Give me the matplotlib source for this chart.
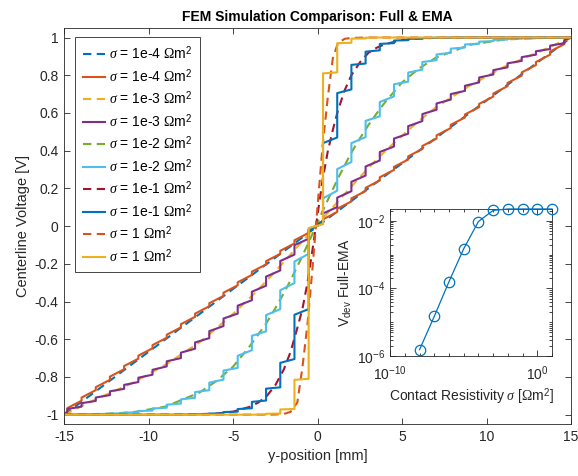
import matplotlib
matplotlib.use("Agg")
import matplotlib.pyplot as plt
from matplotlib.ticker import FixedLocator, FuncFormatter, LogLocator, NullFormatter

plt.rcParams["font.family"] = ["Liberation Sans", "DejaVu Sans"]
plt.rcParams["mathtext.fontset"] = "custom"
plt.rcParams["mathtext.rm"] = "Liberation Serif"
plt.rcParams["mathtext.it"] = "Liberation Serif:italic"
plt.rcParams["mathtext.sf"] = "Liberation Sans"
plt.rcParams["axes.unicode_minus"] = False

INK = "#262626"

# ---------------- data ----------------
# domain ends [mm] and applied potentials [V]
y_ends = [-15.0, 15.0]
v_ends = [-1.0, 1.0]

# contact planes between the layers of the full model [mm]
contact_y = [-14.81, -13.97, -13.13, -12.29, -11.45, -10.61, -9.77, -8.93, -8.09,
             -7.25, -6.41, -5.57, -4.73, -3.89, -3.05, -2.21, -1.37, -0.53,
             0.32, 1.16, 2.00, 2.84, 3.68, 4.52, 5.36, 6.20, 7.04, 7.88, 8.72,
             9.56, 10.40, 11.24, 12.08, 12.92, 13.76, 14.60]

# full model: potential just below / just above each contact plane
full_1e4_lo = [-0.981, -0.926, -0.870, -0.815, -0.759, -0.703, -0.648, -0.592, -0.537,
               -0.481, -0.425, -0.370, -0.314, -0.259, -0.203, -0.147, -0.092, -0.036,
               0.020, 0.075, 0.131, 0.186, 0.242, 0.298, 0.353, 0.409, 0.464,
               0.520, 0.576, 0.631, 0.687, 0.742, 0.798, 0.854, 0.909, 0.965]
full_1e4_hi = [-0.965, -0.909, -0.854, -0.798, -0.742, -0.687, -0.631, -0.576, -0.520,
               -0.464, -0.409, -0.353, -0.298, -0.242, -0.186, -0.131, -0.075, -0.020,
               0.036, 0.092, 0.147, 0.203, 0.259, 0.314, 0.370, 0.425, 0.481,
               0.537, 0.592, 0.648, 0.703, 0.759, 0.815, 0.870, 0.926, 0.981]

full_1e3_lo = [-0.986, -0.957, -0.927, -0.896, -0.863, -0.827, -0.788, -0.744, -0.700,
               -0.650, -0.594, -0.530, -0.464, -0.393, -0.316, -0.235, -0.151, -0.067,
               0.017, 0.101, 0.185, 0.268, 0.348, 0.422, 0.490, 0.557, 0.617,
               0.671, 0.717, 0.762, 0.804, 0.842, 0.876, 0.909, 0.939, 0.970]
full_1e3_hi = [-0.970, -0.939, -0.909, -0.876, -0.842, -0.804, -0.762, -0.717, -0.671,
               -0.617, -0.557, -0.490, -0.422, -0.348, -0.268, -0.185, -0.101, -0.017,
               0.067, 0.151, 0.235, 0.316, 0.393, 0.464, 0.530, 0.594, 0.650,
               0.700, 0.744, 0.788, 0.827, 0.863, 0.896, 0.927, 0.957, 0.986]

full_1e2_lo = [-1.000, -0.999, -0.998, -0.996, -0.993, -0.988, -0.978, -0.963, -0.941,
               -0.910, -0.870, -0.814, -0.752, -0.658, -0.558, -0.440, -0.302, -0.147,
               0.023, 0.188, 0.340, 0.472, 0.582, 0.688, 0.766, 0.830, 0.880,
               0.919, 0.947, 0.967, 0.981, 0.989, 0.994, 0.996, 0.998, 0.999]
full_1e2_hi = [-0.999, -0.998, -0.996, -0.994, -0.989, -0.981, -0.967, -0.947, -0.919,
               -0.880, -0.830, -0.766, -0.688, -0.582, -0.472, -0.340, -0.188, -0.023,
               0.147, 0.302, 0.440, 0.558, 0.658, 0.752, 0.814, 0.870, 0.910,
               0.941, 0.963, 0.978, 0.988, 0.993, 0.996, 0.998, 0.999, 1.000]

full_1e1_lo = [-1.000, -1.000, -1.000, -1.000, -1.000, -1.000, -1.000, -1.000, -1.000,
               -0.999, -0.997, -0.993, -0.984, -0.966, -0.925, -0.855, -0.705, -0.440,
               0.030, 0.470, 0.725, 0.862, 0.932, 0.970, 0.986, 0.994, 0.998,
               0.999, 1.000, 1.000, 1.000, 1.000, 1.000, 1.000, 1.000, 1.000]
full_1e1_hi = [-1.000, -1.000, -1.000, -1.000, -1.000, -1.000, -1.000, -1.000, -0.999,
               -0.998, -0.994, -0.986, -0.970, -0.932, -0.862, -0.725, -0.470, -0.030,
               0.440, 0.705, 0.855, 0.925, 0.966, 0.984, 0.993, 0.997, 0.999,
               1.000, 1.000, 1.000, 1.000, 1.000, 1.000, 1.000, 1.000, 1.000]

full_1e0_lo = [-1.000, -1.000, -1.000, -1.000, -1.000, -1.000, -1.000, -1.000, -1.000,
               -1.000, -1.000, -1.000, -1.000, -1.000, -0.999, -0.994, -0.970, -0.810,
               0.010, 0.815, 0.972, 0.995, 1.000, 1.000, 1.000, 1.000, 1.000,
               1.000, 1.000, 1.000, 1.000, 1.000, 1.000, 1.000, 1.000, 1.000]
full_1e0_hi = [-1.000, -1.000, -1.000, -1.000, -1.000, -1.000, -1.000, -1.000, -1.000,
               -1.000, -1.000, -1.000, -1.000, -1.000, -0.995, -0.972, -0.815, -0.010,
               0.810, 0.970, 0.994, 0.999, 1.000, 1.000, 1.000, 1.000, 1.000,
               1.000, 1.000, 1.000, 1.000, 1.000, 1.000, 1.000, 1.000, 1.000]

# effective medium approximation, sampled along y [mm]
ema_y = [-15, -13, -11, -9, -7, -6, -5, -4, -3.5, -3, -2.5, -2, -1.6, -1.2, -0.9,
         -0.6, -0.3, 0, 0.3, 0.6, 0.9, 1.2, 1.6, 2, 2.5, 3, 3.5, 4, 5, 6, 7, 9,
         11, 13, 15]
ema_1e4 = [-1.000, -0.867, -0.733, -0.600, -0.467, -0.400, -0.333, -0.267, -0.233,
           -0.200, -0.167, -0.133, -0.107, -0.080, -0.060, -0.040, -0.020, 0.000,
           0.020, 0.040, 0.060, 0.080, 0.107, 0.133, 0.167, 0.200, 0.233, 0.267,
           0.333, 0.400, 0.467, 0.600, 0.733, 0.867, 1.000]
ema_1e3 = [-1.000, -0.913, -0.834, -0.735, -0.617, -0.543, -0.465, -0.380, -0.335,
           -0.288, -0.240, -0.190, -0.150, -0.110, -0.080, -0.050, -0.020, 0.010,
           0.040, 0.070, 0.100, 0.130, 0.170, 0.210, 0.260, 0.307, 0.353, 0.398,
           0.480, 0.558, 0.630, 0.745, 0.843, 0.920, 1.000]
ema_1e2 = [-1.000, -0.997, -0.988, -0.957, -0.883, -0.822, -0.745, -0.635, -0.573,
           -0.510, -0.435, -0.356, -0.287, -0.214, -0.157, -0.100, -0.040, 0.020,
           0.081, 0.138, 0.195, 0.252, 0.322, 0.390, 0.465, 0.535, 0.598, 0.658,
           0.762, 0.836, 0.893, 0.961, 0.989, 0.997, 1.000]
ema_1e1 = [-1.000, -1.000, -1.000, -1.000, -0.997, -0.994, -0.984, -0.958, -0.935,
           -0.900, -0.843, -0.760, -0.667, -0.540, -0.440, -0.300, -0.124, 0.062,
           0.248, 0.395, 0.510, 0.612, 0.720, 0.800, 0.868, 0.918, 0.946, 0.965,
           0.987, 0.995, 0.998, 1.000, 1.000, 1.000, 1.000]
ema_1e0 = [-1.000, -1.000, -1.000, -1.000, -1.000, -1.000, -1.000, -1.000, -1.000,
           -1.000, -0.999, -0.996, -0.985, -0.935, -0.750, -0.520, -0.220, 0.110,
           0.430, 0.680, 0.890, 0.970, 0.993, 0.998, 0.999, 1.000, 1.000, 1.000,
           1.000, 1.000, 1.000, 1.000, 1.000, 1.000, 1.000]

legend_labels = [
    r"$\sigma$ = 1e-4 $\Omega$m$^{\mathsf{2}}$",
    r"$\sigma$ = 1e-4 $\Omega$m$^{\mathsf{2}}$",
    r"$\sigma$ = 1e-3 $\Omega$m$^{\mathsf{2}}$",
    r"$\sigma$ = 1e-3 $\Omega$m$^{\mathsf{2}}$",
    r"$\sigma$ = 1e-2 $\Omega$m$^{\mathsf{2}}$",
    r"$\sigma$ = 1e-2 $\Omega$m$^{\mathsf{2}}$",
    r"$\sigma$ = 1e-1 $\Omega$m$^{\mathsf{2}}$",
    r"$\sigma$ = 1e-1 $\Omega$m$^{\mathsf{2}}$",
    r"$\sigma$ = 1 $\Omega$m$^{\mathsf{2}}$",
    r"$\sigma$ = 1 $\Omega$m$^{\mathsf{2}}$",
]

# deviation between full model and EMA versus contact resistivity
dev_sigma = [1e-8, 1e-7, 1e-6, 1e-5, 1e-4, 1e-3, 1e-2, 1e-1, 1e0, 1e1]
dev_value = [1.55e-6, 1.5e-5, 1.6e-4, 1.5e-3, 9.6e-3, 2.05e-2, 2.26e-2, 2.26e-2,
             2.26e-2, 2.26e-2]

x_ticks = [-15, -10, -5, 0, 5, 10, 15]
y_ticks = [-1, -0.8, -0.6, -0.4, -0.2, 0, 0.2, 0.4, 0.6, 0.8, 1]

# MATLAB default colour order
C_BLUE = "#0072BD"
C_ORANGE = "#D95319"
C_YELLOW = "#EDB120"
C_PURPLE = "#7E2F8E"
C_GREEN = "#77AC30"
C_CYAN = "#4DBEEE"
C_RED = "#A2142F"


def staircase(lo, hi):
    ys = [y_ends[0]]
    vs = [v_ends[0]]
    for yc, a, b in zip(contact_y, lo, hi):
        ys += [yc, yc]
        vs += [a, b]
    ys.append(y_ends[1])
    vs.append(v_ends[1])
    return ys, vs


fig = plt.figure(figsize=(5.78, 4.76), dpi=100)
ax = fig.add_axes([0.111, 0.109, 0.877, 0.832])

lw = 1.5
dash = (0, (4.0, 2.6))
series = [
    ("ema", ema_1e4, C_BLUE),
    ("full", (full_1e4_lo, full_1e4_hi), C_ORANGE),
    ("ema", ema_1e3, C_YELLOW),
    ("full", (full_1e3_lo, full_1e3_hi), C_PURPLE),
    ("ema", ema_1e2, C_GREEN),
    ("full", (full_1e2_lo, full_1e2_hi), C_CYAN),
    ("ema", ema_1e1, C_RED),
    ("full", (full_1e1_lo, full_1e1_hi), C_BLUE),
    ("ema", ema_1e0, C_ORANGE),
    ("full", (full_1e0_lo, full_1e0_hi), C_YELLOW),
]
for (kind, vals, col), lab in zip(series, legend_labels):
    if kind == "ema":
        ax.plot(ema_y, vals, color=col, lw=lw, linestyle=dash, label=lab)
    else:
        ys, vs = staircase(*vals)
        ax.plot(ys, vs, color=col, lw=lw, label=lab)

ax.set_xlim(-15, 15)
ax.set_ylim(-1.05, 1.05)
ax.xaxis.set_major_locator(FixedLocator(x_ticks))
ax.yaxis.set_major_locator(FixedLocator(y_ticks))
ax.yaxis.set_major_formatter(FuncFormatter(lambda v, p: "%g" % round(v, 2)))
ax.tick_params(direction="in", length=4, width=0.6, top=True, right=True,
               labelsize=10, colors=INK, pad=4)
for s in ax.spines.values():
    s.set_color(INK)
    s.set_linewidth(0.6)
ax.set_xlabel("y-position [mm]", fontsize=10.5, color=INK, labelpad=4)
ax.set_ylabel("Centerline Voltage [V]", fontsize=10.5, color=INK, labelpad=3)
ax.set_title("FEM Simulation Comparison: Full & EMA", fontsize=10, fontweight="bold",
             color="black", pad=5)

leg = ax.legend(loc="upper left", bbox_to_anchor=(0.022, 0.978), borderaxespad=0,
                fontsize=10, handlelength=1.6, handletextpad=0.3, labelspacing=0.33,
                borderpad=0.55, fancybox=False, framealpha=1, edgecolor=INK)
leg.get_frame().set_linewidth(0.6)
for t in leg.get_texts():
    t.set_color("black")

# inset: deviation full - EMA
ins = fig.add_axes([0.675, 0.252, 0.28, 0.309])
ins.loglog(dev_sigma, dev_value, "-o", color=C_BLUE, lw=0.9, ms=7.5, mfc="none",
           mew=0.9, clip_on=False, zorder=3)
ins.set_xlim(1e-10, 10)
ins.set_ylim(1e-6, 2.26e-2)
ins.xaxis.set_major_locator(FixedLocator([1e-10, 1e0]))
ins.xaxis.set_minor_locator(LogLocator(base=10, subs=(1.0,), numticks=30))
ins.xaxis.set_minor_formatter(NullFormatter())
ins.yaxis.set_major_locator(FixedLocator([1e-6, 1e-4, 1e-2]))
ins.yaxis.set_minor_locator(LogLocator(base=10, subs=tuple(range(1, 10)), numticks=30))
ins.yaxis.set_minor_formatter(NullFormatter())
ins.tick_params(which="both", direction="in", top=True, right=True, colors=INK,
                labelsize=10, width=0.6)
ins.tick_params(which="major", length=4)
ins.tick_params(which="minor", length=2)
ins.tick_params(axis="x", which="major", pad=6)
for s in ins.spines.values():
    s.set_color(INK)
    s.set_linewidth(0.6)
ins.set_xlabel(r"Contact Resistivity $\sigma$ [$\Omega$m$^{\mathsf{2}}$]", fontsize=10,
               color=INK, labelpad=2)
ins.set_ylabel(r"V$_{\mathsf{dev}}$ Full-EMA", fontsize=10, color=INK, labelpad=2)

fig.savefig("out.png", dpi=100)
